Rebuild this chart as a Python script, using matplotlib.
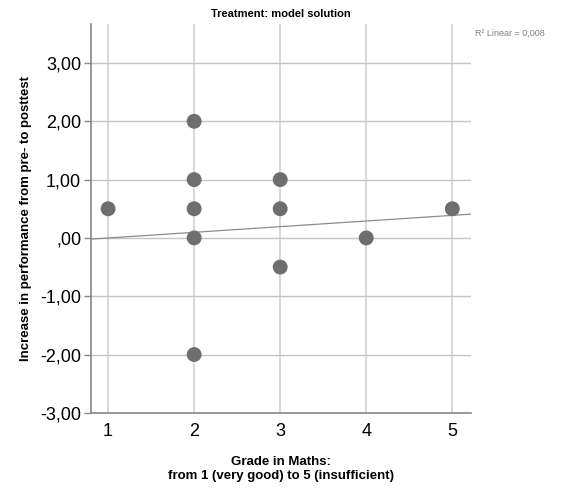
import matplotlib.pyplot as plt

plt.rcParams["font.family"] = ["Liberation Sans", "DejaVu Sans"]

# observations (grade, improvement)
grade = [1, 2, 2, 2, 2, 2, 3, 3, 3, 4, 5]
gain = [0.5, 2.0, 1.0, 0.5, 0.0, -2.0, 1.0, 0.5, -0.5, 0.0, 0.5]

# linear fit as shown by SPSS (R² = 0,008)
fit_intercept = -0.098
fit_slope = 0.097
r2_label = "R\u00b2 Linear = 0,008"

x_ticks = [1, 2, 3, 4, 5]
y_ticks = [3, 2, 1, 0, -1, -2, -3]
y_tick_labels = ["3,00", "2,00", "1,00", ",00", "-1,00", "-2,00", "-3,00"]

XMIN, XMAX = 0.80, 5.22
YMIN, YMAX = -3.0, 3.67

fig = plt.figure(figsize=(5.61, 4.88), dpi=100)
ax = fig.add_axes([0.162, 0.154, 0.678, 0.797])

ax.set_xlim(XMIN, XMAX)
ax.set_ylim(YMIN, YMAX)

for x in x_ticks:
    ax.axvline(x, color="#d4d4d4", lw=1.3, zorder=0)
for y in y_ticks:
    ax.axhline(y, color="#c4c4c4", lw=1.0, zorder=0)

ax.plot([XMIN, XMAX], [fit_intercept + fit_slope * XMIN, fit_intercept + fit_slope * XMAX],
        color="#8c8c8c", lw=0.9, zorder=2)

ax.scatter(grade, gain, s=115, color="#6e6e6e", edgecolors="none", zorder=3)

ax.set_xticks(x_ticks)
ax.set_xticklabels([str(x) for x in x_ticks], fontsize=13)
ax.set_yticks(y_ticks)
ax.set_yticklabels(y_tick_labels, fontsize=13)
ax.tick_params(axis="x", length=0, pad=7)
ax.tick_params(axis="y", length=5, width=1, color="#888888", pad=2)

for side in ("top", "right"):
    ax.spines[side].set_visible(False)
for side in ("left", "bottom"):
    ax.spines[side].set_color("#888888")
    ax.spines[side].set_linewidth(1.2)

ax.set_xlabel("Grade in Maths:\nfrom 1 (very good) to 5 (insufficient)",
              fontsize=9.5, fontweight="bold", labelpad=12, linespacing=1.15)
ax.set_ylabel("Increase in performance from pre- to posttest",
              fontsize=9.5, fontweight="bold", labelpad=6)
ax.set_title("Treatment: model solution", fontsize=8, fontweight="bold", pad=5)

fig.text(0.847, 0.932, r2_label, fontsize=6.5, color="#808080", ha="left", va="center")

fig.savefig("out.png", dpi=100)
